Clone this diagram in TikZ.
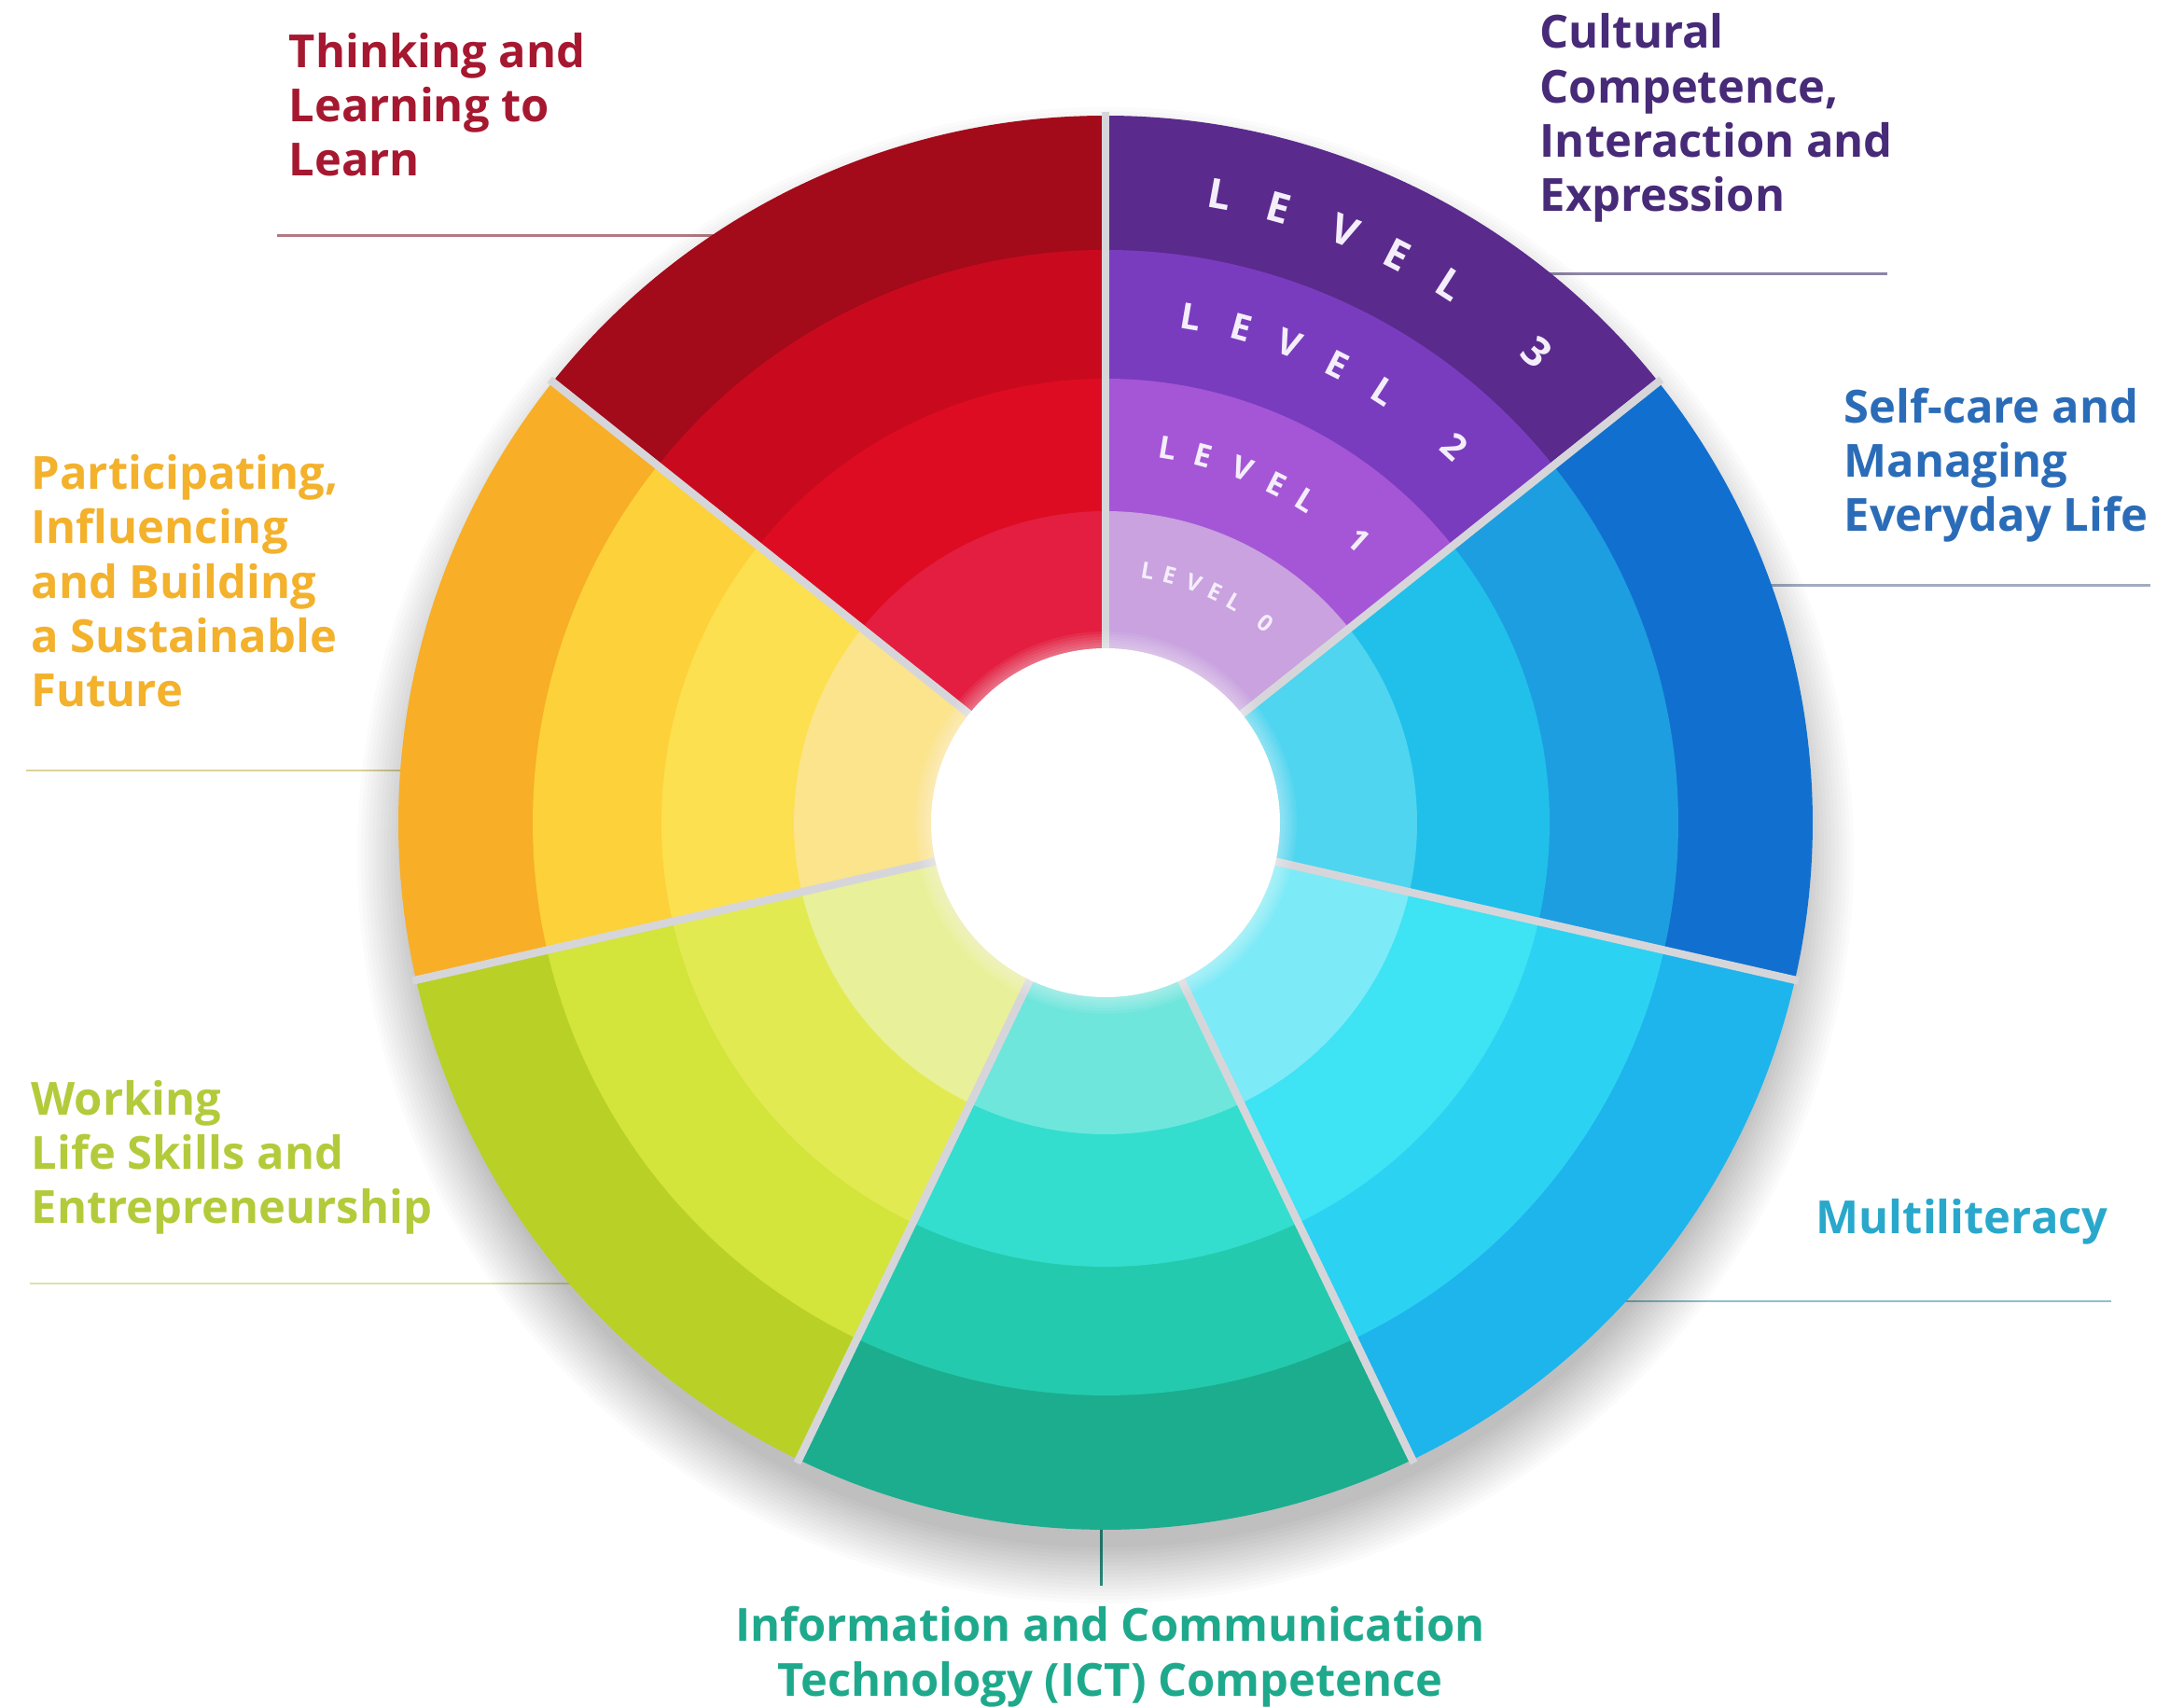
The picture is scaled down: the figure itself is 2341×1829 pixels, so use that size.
\documentclass[tikz,border=0pt]{standalone}
\usepackage{fontspec}
\setmainfont{Open Sans}
% ring colours: 3 = outer ... 0 = inner
\definecolor{rd3}{HTML}{A30A1A}\definecolor{rd2}{HTML}{C90A1E}\definecolor{rd1}{HTML}{DE0C22}\definecolor{rd0}{HTML}{E31E40}
\definecolor{or3}{HTML}{F8AE27}\definecolor{or2}{HTML}{FDD13A}\definecolor{or1}{HTML}{FDE04F}\definecolor{or0}{HTML}{FBE48C}
\definecolor{gr3}{HTML}{B9D126}\definecolor{gr2}{HTML}{D3E43B}\definecolor{gr1}{HTML}{E2EA52}\definecolor{gr0}{HTML}{E9F09A}
\definecolor{tl3}{HTML}{1BAD8E}\definecolor{tl2}{HTML}{24CAAD}\definecolor{tl1}{HTML}{33DECE}\definecolor{tl0}{HTML}{6FE6DC}
\definecolor{cy3}{HTML}{1DB5EC}\definecolor{cy2}{HTML}{2CD2F2}\definecolor{cy1}{HTML}{3EE3F4}\definecolor{cy0}{HTML}{7DEAF7}
\definecolor{bl3}{HTML}{1170CF}\definecolor{bl2}{HTML}{1D9EE0}\definecolor{bl1}{HTML}{20C0EA}\definecolor{bl0}{HTML}{4FD5EF}
\definecolor{pu3}{HTML}{5A2A8D}\definecolor{pu2}{HTML}{7A3CBF}\definecolor{pu1}{HTML}{A556D6}\definecolor{pu0}{HTML}{C9A2DF}
% label colours
\definecolor{tThink}{HTML}{A61830}\definecolor{lThink}{HTML}{B07A82}
\definecolor{tCult}{HTML}{472A78}\definecolor{lCult}{HTML}{8E86A6}
\definecolor{tSelf}{HTML}{2B6CB8}\definecolor{lSelf}{HTML}{A2ACC0}
\definecolor{tMulti}{HTML}{29A8CC}\definecolor{lMulti}{HTML}{8EC0CC}
\definecolor{tIct}{HTML}{1EA98C}\definecolor{lIct}{HTML}{2E9A88}
\definecolor{tWork}{HTML}{B3CB3B}\definecolor{lWork}{HTML}{D8E4A8}
\definecolor{tPart}{HTML}{F3B12C}\definecolor{lPart}{HTML}{DCD29A}
\definecolor{sepgray}{HTML}{D6D6DA}
\definecolor{lvtext}{HTML}{F4EEFB}
\newcommand{\wseg}[5]{%
  \fill[#2] (0,0) -- (#1:758) arc[start angle=#1, delta angle=51.4286, radius=758] -- cycle;
  \fill[#3] (0,0) -- (#1:614) arc[start angle=#1, delta angle=51.4286, radius=614] -- cycle;
  \fill[#4] (0,0) -- (#1:476) arc[start angle=#1, delta angle=51.4286, radius=476] -- cycle;
  \fill[#5] (0,0) -- (#1:334) arc[start angle=#1, delta angle=51.4286, radius=334] -- cycle;
}
\begin{document}
\begin{tikzpicture}[x=0.01cm,y=0.01cm,
  lab/.style={font=\fontsize{13.9}{16.6}\selectfont\bfseries, inner sep=0pt, align=left, anchor=base west},
  conn/.style={line width=0.85pt},
  sep/.style={draw=sepgray, line width=2.4pt},
  lv/.style={text=lvtext, inner sep=0pt}
]
\useasboundingbox (0,0) rectangle (2341,1829);
\fill[white] (0,0) rectangle (2341,1829);

% label connector lines
\coordinate (thinkL) at (297,1576); \coordinate (thinkR) at (770,1576);
\coordinate (cultL) at (1655,1535); \coordinate (cultR) at (2023,1535);
\coordinate (selfL) at (1890,1201); \coordinate (selfR) at (2305,1201);
\coordinate (multiL) at (1735,434); \coordinate (multiR) at (2263,434);
\coordinate (ictT) at (1180,200); \coordinate (ictB) at (1180,129);
\coordinate (workL) at (32,453); \coordinate (workR) at (615,453);
\coordinate (partL) at (28,1003); \coordinate (partR) at (435,1003);
\draw[conn, draw=lThink] (thinkL) -- (thinkR);
\draw[conn, draw=lCult] (cultL) -- (cultR);
\draw[conn, draw=lSelf] (selfL) -- (selfR);
\draw[conn, draw=lMulti] (multiL) -- (multiR);
\draw[conn, draw=lIct] (ictT) -- (ictB);
\draw[conn, draw=lWork] (workL) -- (workR);
\draw[conn, draw=lPart] (partL) -- (partR);

\begin{scope}[shift={(1185,947)}]
  % soft shadow
  \foreach \k in {0,...,15}
    \fill[black, opacity=0.014] (0,-35) circle[radius=742+4*\k];
  % wheel
  \wseg{38.5714}{pu3}{pu2}{pu1}{pu0}
  \wseg{90}{rd3}{rd2}{rd1}{rd0}
  \wseg{141.4286}{or3}{or2}{or1}{or0}
  \wseg{192.8571}{gr3}{gr2}{gr1}{gr0}
  \wseg{244.2857}{tl3}{tl2}{tl1}{tl0}
  \wseg{295.7143}{cy3}{cy2}{cy1}{cy0}
  \wseg{347.1429}{bl3}{bl2}{bl1}{bl0}
  % separators
  \foreach \a in {38.5714,90,141.4286,192.8571,244.2857,295.7143,347.1429}
    \draw[sep] (\a:180) -- (\a:762);
  % centre
  \foreach \k in {1,...,6}
    \fill[white, opacity=0.07] (0,0) circle[radius=187+3*\k];
  \fill[white] (0,0) circle[radius=187];
  % level captions
  \foreach \ch/\a [count=\i] in {L/79.7,E/74.3,V/68.0,E/62.8,L/57.4,3/47.5}
    \node[lv, font=\fontsize{12.5}{12.5}\selectfont\bfseries, rotate=\a-90, name=lvc\i] at (\a:685) {\ch};
  \foreach \ch/\a [count=\i] in {L/80.4,E/74.7,V/69.0,E/63.1,L/57.2,2/47.2}
    \node[lv, font=\fontsize{11}{11}\selectfont\bfseries, rotate=\a-90, name=lvb\i] at (\a:550) {\ch};
  \foreach \ch/\a [count=\i] in {L/80.5,E/75.1,V/68.9,E/63.2,L/58.2,1/48.1}
    \node[lv, font=\fontsize{9.5}{9.5}\selectfont\bfseries, rotate=\a-90, name=lva\i] at (\a:407) {\ch};
  \foreach \ch/\a [count=\i] in {L/80.5,E/75.5,V/69.8,E/64.6,L/59.8,0/51.3}
    \node[lv, font=\fontsize{7}{7}\selectfont\bfseries, rotate=\a-90, name=lvz\i] at (\a:274) {\ch};
\end{scope}

% labels (anchor = baseline of the last line)
\node[lab, text=tThink] (think) at (309,1640) {Thinking and\\Learning to\\Learn};
\node[lab, text=tCult] (cult) at (1650,1602) {Cultural\\Competence,\\Interaction and\\Expression};
\node[lab, text=tSelf] (self) at (1976,1259) {Self-care and\\Managing\\Everyday Life};
\node[lab, text=tPart] (part) at (33,1071) {Participating,\\Influencing\\and Building\\a Sustainable\\Future};
\node[lab, text=tWork] (work) at (33,517) {Working\\Life Skills and\\Entrepreneurship};
\node[lab, text=tMulti] (multi) at (1946,506) {Multiliteracy};
\node[lab, text=tIct, align=center, anchor=base] (ict) at (1190,11) {Information and Communication\\Technology (ICT) Competence};
\end{tikzpicture}
\end{document}
